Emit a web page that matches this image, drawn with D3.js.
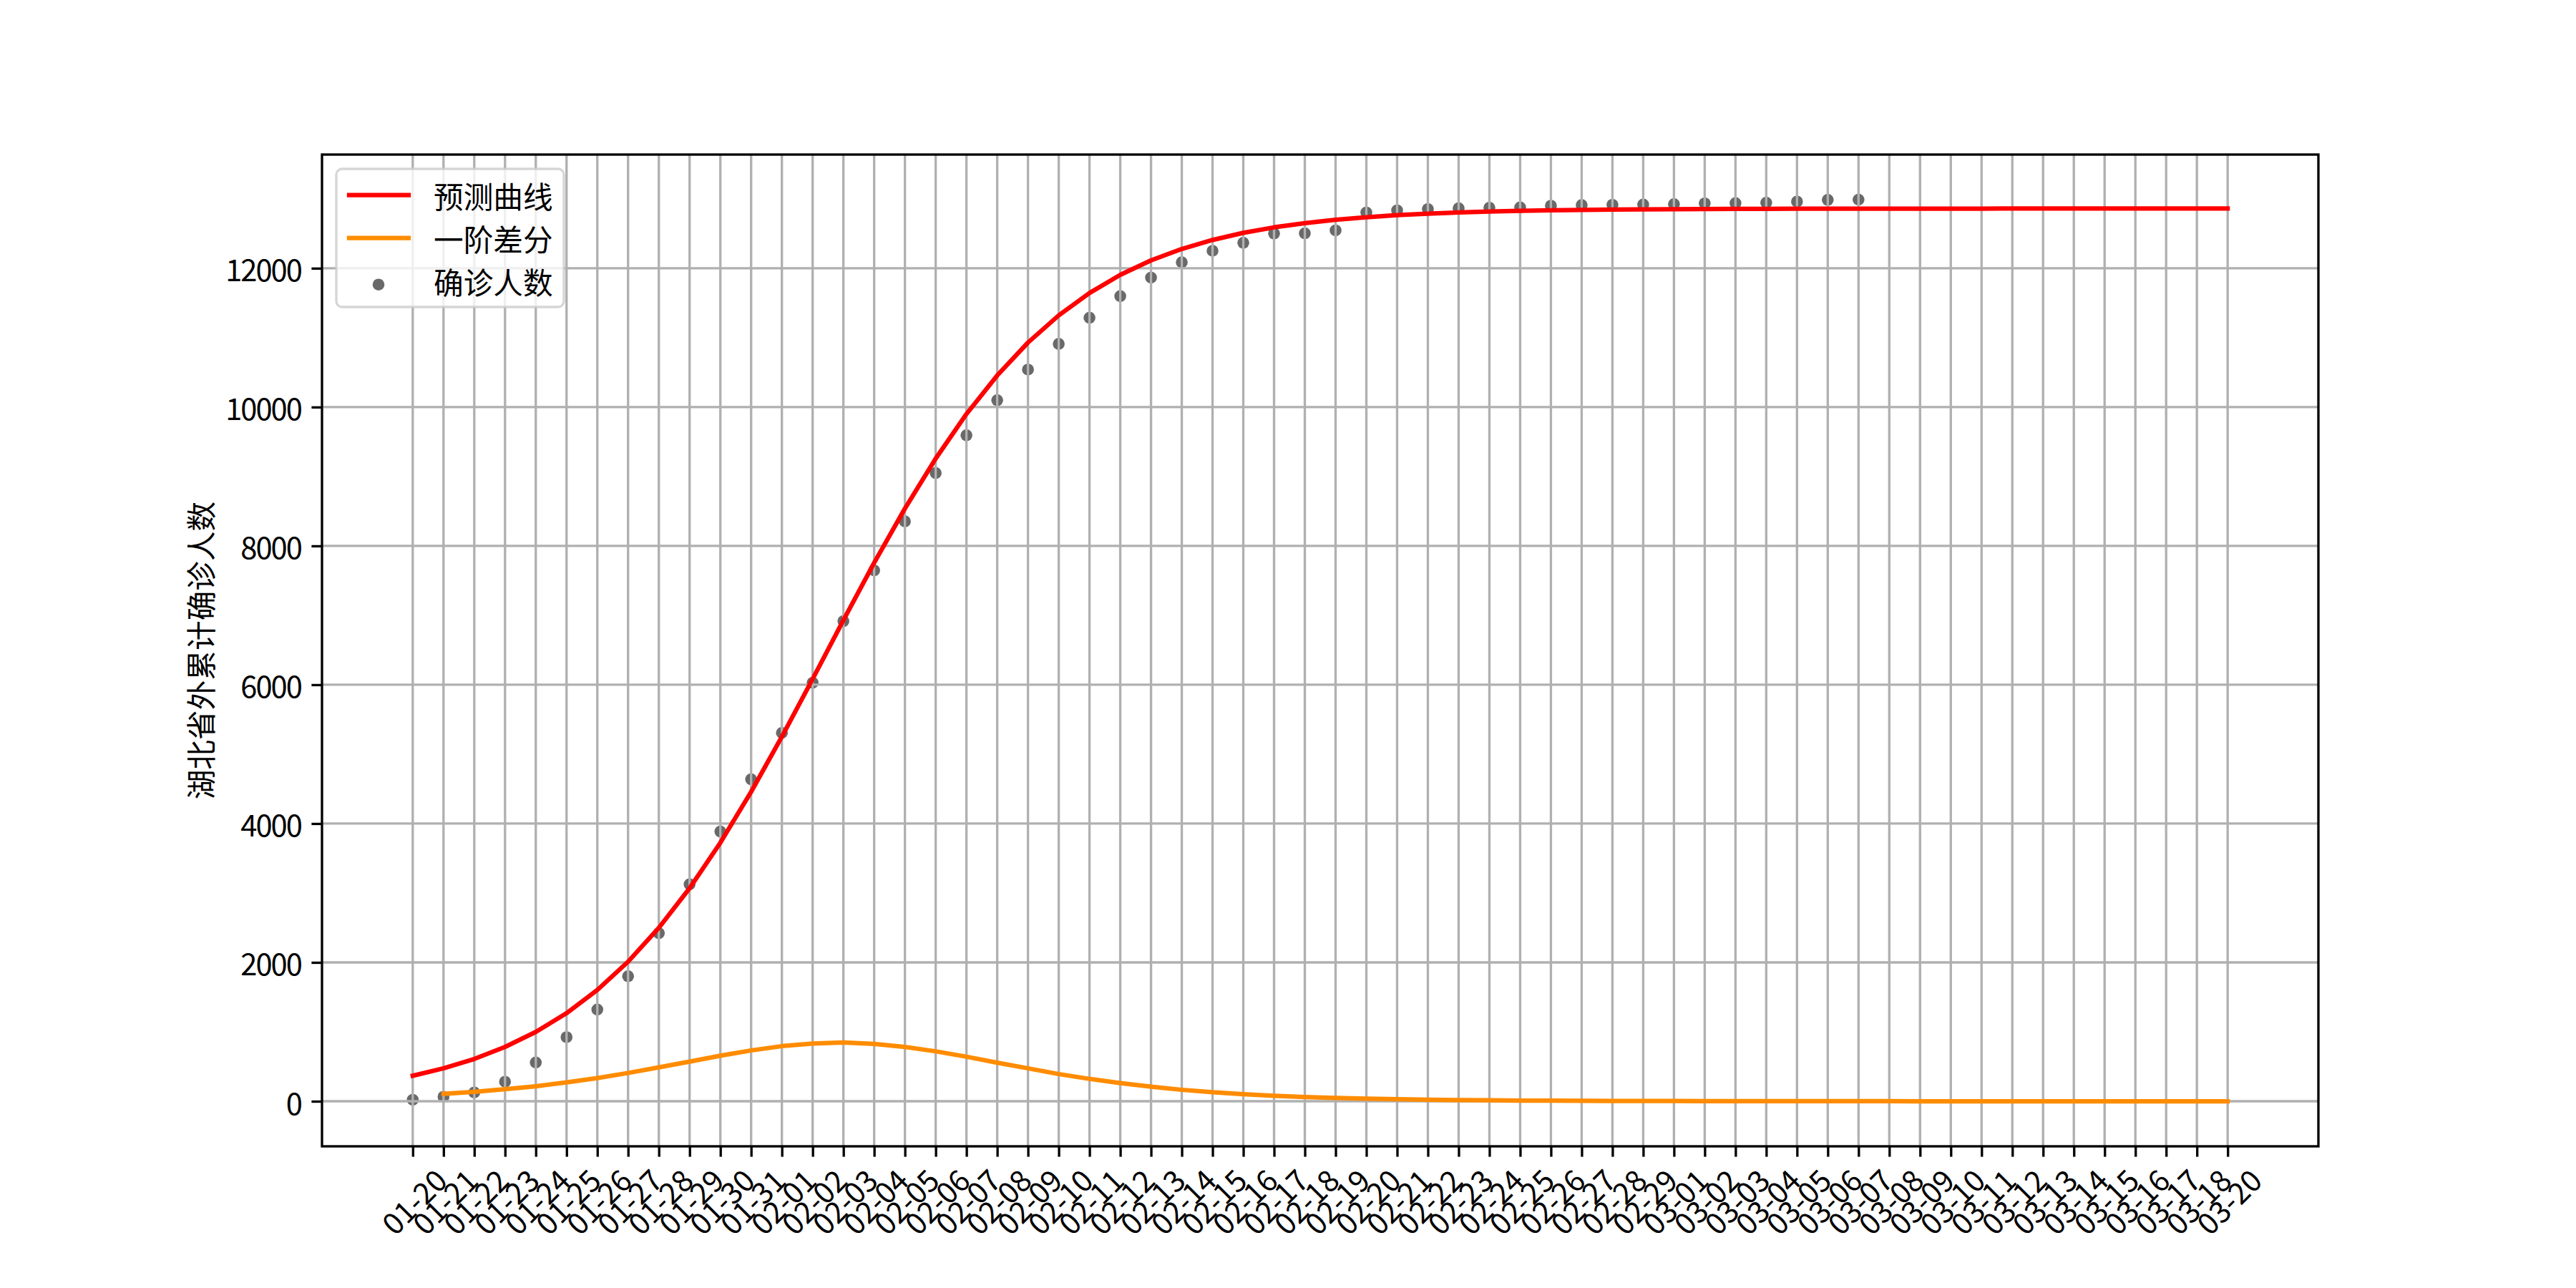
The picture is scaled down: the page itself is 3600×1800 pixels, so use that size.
<!DOCTYPE html>
<html><head><meta charset="utf-8">
<script src="https://cdn.jsdelivr.net/npm/d3@7"></script>
<style>body{margin:0;background:#fff} svg{display:block}</style>
</head><body>
<script>
// ---------------- data ----------------
const dateLabels = [
 "01-20","01-21","01-22","01-23","01-24","01-25","01-26","01-27","01-28","01-29","01-30","01-31",
 "02-01","02-02","02-03","02-04","02-05","02-06","02-07","02-08","02-09","02-10","02-11","02-12","02-13","02-14",
 "02-15","02-16","02-17","02-18","02-19","02-20","02-21","02-22","02-23","02-24","02-25","02-26","02-27","02-28","02-29",
 "03-01","03-02","03-03","03-04","03-05","03-06","03-07","03-08","03-09","03-10","03-11","03-12","03-13","03-14",
 "03-15","03-16","03-17","03-18","03-20"
];
// 预测曲线 (one value per date label)
const predicted = [
 367, 474, 609, 782, 998, 1269, 1603, 2010, 2498, 3069,
 3725, 4457, 5251, 6083, 6929, 7756, 8539, 9258, 9900, 10455,
 10929, 11321, 11643, 11904, 12113, 12278, 12407, 12510, 12589, 12650,
 12698, 12735, 12764, 12786, 12803, 12816, 12826, 12834, 12840, 12845,
 12848, 12851, 12853, 12855, 12856, 12857, 12858, 12858, 12859, 12859,
 12859, 12859, 12860, 12860, 12860, 12860, 12860, 12860, 12860, 12860
];
// 一阶差分 (starts at the second date label)
const firstDiff = [
 107, 135, 173, 216, 271, 334, 407, 488, 571, 656,
 732, 794, 832, 846, 827, 783, 719, 642, 555, 474,
 392, 322, 261, 209, 165, 129, 103, 79, 61, 48,
 37, 29, 22, 17, 13, 10, 8, 6, 5, 3,
 3, 2, 2, 1, 1, 1, 1, 1, 0, 0,
 0, 0, 0, 0, 0, 0, 0, 0, 0
];
// 确诊人数 (from the first date label)
const confirmed = [
 21, 65, 127, 281, 558, 923, 1321, 1801, 2420, 3125,
 3886, 4638, 5306, 6028, 6916, 7646, 8353, 9049, 9593, 10098,
 10540, 10910, 11287, 11598, 11865, 12086, 12251, 12366, 12500, 12503,
 12545, 12803, 12834, 12852, 12863, 12872, 12877, 12901, 12910, 12914,
 12917, 12923, 12934, 12938, 12943, 12960, 12985, 12988
];
const yTicks = [0, 2000, 4000, 6000, 8000, 10000, 12000];
const seriesNames = ["预测曲线", "一阶差分", "确诊人数"];
const yTitle = "湖北省外累计确诊人数";

// ---------------- layout ----------------
const W = 3600, H = 1800;
const M = {l: 450, r: 3240, t: 216, b: 1602};
const FS = 41.67;           // 10pt @ 300dpi
const LW = 3.33;            // 0.8pt
const FONT = "'Noto Sans CJK SC', 'Noto Sans', sans-serif";

const svg = d3.select("body").append("svg").attr("width", W).attr("height", H)
  .style("font-family", FONT);
svg.append("rect").attr("width", W).attr("height", H).attr("fill", "#fff");

const n = predicted.length - 1;
const x = d3.scaleLinear().domain([-0.05 * n, n + 0.05 * n]).range([M.l, M.r]);
const allY = predicted.concat(firstDiff, confirmed);
const [ymin, ymax] = d3.extent(allY);
const ypad = 0.05 * (ymax - ymin);
const y = d3.scaleLinear().domain([ymin - ypad, ymax + ypad]).range([M.b, M.t]);

// scatter (zorder lowest)
svg.append("g").selectAll("circle").data(confirmed).join("circle")
  .attr("cx", (d, i) => x(i)).attr("cy", d => y(d)).attr("r", 8.3)
  .attr("fill", "#696969");

// grid
const grid = svg.append("g").attr("stroke", "#b0b0b0").attr("stroke-width", LW);
grid.selectAll("line.gx").data(d3.range(dateLabels.length)).join("line")
  .attr("x1", i => x(i)).attr("x2", i => x(i)).attr("y1", M.t).attr("y2", M.b);
grid.selectAll("line.gy").data(yTicks).join("line")
  .attr("x1", M.l).attr("x2", M.r).attr("y1", d => y(d)).attr("y2", d => y(d));

// lines
const lineP = d3.line().x((d, i) => x(i)).y(d => y(d));
const lineD = d3.line().x((d, i) => x(i + 1)).y(d => y(d));
svg.append("path").attr("d", lineP(predicted)).attr("fill", "none")
  .attr("stroke", "#ff0000").attr("stroke-width", 6.25)
  .attr("stroke-linejoin", "round").attr("stroke-linecap", "square");
svg.append("path").attr("d", lineD(firstDiff)).attr("fill", "none")
  .attr("stroke", "#ff8c00").attr("stroke-width", 6.25)
  .attr("stroke-linejoin", "round").attr("stroke-linecap", "square");

// axes
const xAxis = d3.axisBottom(x).tickValues(d3.range(dateLabels.length))
  .tickFormat(i => dateLabels[i]).tickSize(14.6).tickPadding(0);
const gx = svg.append("g").attr("transform", `translate(0,${M.b})`).call(xAxis);
gx.select(".domain").remove();
gx.selectAll(".tick line").attr("stroke", "#000").attr("stroke-width", LW);
gx.selectAll(".tick text")
  .attr("fill", "#000").attr("font-size", FS).attr("font-family", FONT)
  .attr("text-anchor", "middle").attr("dominant-baseline", "central")
  .attr("y", null).attr("dy", null)
  .attr("transform", "translate(0,76) rotate(-45)");

const yAxis = d3.axisLeft(y).tickValues(yTicks).tickFormat(d3.format("d"))
  .tickSize(14.6).tickPadding(14.6);
const gy = svg.append("g").attr("transform", `translate(${M.l},0)`).call(yAxis);
gy.select(".domain").remove();
gy.selectAll(".tick line").attr("stroke", "#000").attr("stroke-width", LW);
gy.selectAll(".tick text").attr("fill", "#000").attr("font-size", FS)
  .attr("font-family", FONT).attr("dy", null).attr("dominant-baseline", "central")
  .attr("letter-spacing", "-2px");

// spines
svg.append("rect").attr("x", M.l).attr("y", M.t).attr("width", M.r - M.l)
  .attr("height", M.b - M.t).attr("fill", "none").attr("stroke", "#000")
  .attr("stroke-width", LW).attr("stroke-linecap", "square");

// y title
svg.append("text").attr("transform", `translate(279,${(M.t + M.b) / 2}) rotate(-90)`)
  .attr("text-anchor", "middle").attr("dominant-baseline", "central")
  .attr("font-size", FS).attr("fill", "#000").text(yTitle);

// legend
const lg = svg.append("g");
lg.append("rect").attr("x", 470).attr("y", 236).attr("width", 318).attr("height", 193)
  .attr("rx", 8).attr("ry", 8).attr("fill", "#fff").attr("fill-opacity", 0.8)
  .attr("stroke", "#cccccc").attr("stroke-opacity", 0.8).attr("stroke-width", LW);
const rowY = [272.7, 332.7, 392.7];
const colors = ["#ff0000", "#ff8c00"];
[0, 1].forEach(k => {
  lg.append("line").attr("x1", 488).attr("x2", 571).attr("y1", rowY[k]).attr("y2", rowY[k])
    .attr("stroke", colors[k]).attr("stroke-width", 6.25).attr("stroke-linecap", "square");
});
lg.append("circle").attr("cx", 529).attr("cy", rowY[2] + 5).attr("r", 8.3).attr("fill", "#696969");
lg.selectAll("text").data(seriesNames).join("text")
  .attr("x", 606).attr("y", (d, i) => rowY[i]).attr("dominant-baseline", "central")
  .attr("font-size", FS).attr("fill", "#000").text(d => d);
</script>
</body></html>
